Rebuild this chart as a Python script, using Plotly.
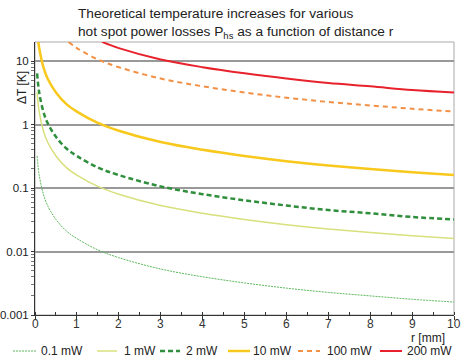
import plotly.graph_objects as go

# ---- data ----
r_small = [0.05, 0.1, 0.2, 0.3, 0.5, 0.75, 1, 1.5, 2, 3, 4, 5, 6, 7, 8, 9, 10]
dt_01mw = [0.32, 0.16, 0.08, 0.053, 0.032, 0.021, 0.016, 0.0106, 0.008, 0.0053, 0.004, 0.0032, 0.00265, 0.00227, 0.002, 0.00177, 0.0016]
dt_1mw = [3.2, 1.6, 0.8, 0.53, 0.32, 0.21, 0.16, 0.106, 0.08, 0.053, 0.04, 0.032, 0.0265, 0.0227, 0.02, 0.0177, 0.016]
dt_2mw = [6.4, 3.2, 1.6, 1.06, 0.64, 0.42, 0.32, 0.21, 0.16, 0.106, 0.08, 0.064, 0.053, 0.045, 0.04, 0.035, 0.032]

r_10mw = [0.08, 0.1, 0.2, 0.3, 0.5, 0.75, 1, 1.5, 2, 3, 4, 5, 6, 7, 8, 9, 10]
dt_10mw = [20, 16, 8, 5.3, 3.2, 2.1, 1.6, 1.06, 0.8, 0.53, 0.4, 0.32, 0.265, 0.227, 0.2, 0.177, 0.16]

r_100mw = [0.8, 1, 1.5, 2, 3, 4, 5, 6, 7, 8, 9, 10]
dt_100mw = [20, 16, 10.6, 8, 5.3, 4, 3.2, 2.65, 2.27, 2.0, 1.77, 1.6]

r_200mw = [1.6, 2, 3, 4, 5, 6, 7, 8, 9, 10]
dt_200mw = [20, 16, 10.6, 8, 6.4, 5.3, 4.5, 4.0, 3.5, 3.2]

series_names = ["0.1 mW", "1 mW", "2 mW", "10 mW", "100 mW", "200 mW"]
x_ticks = [0, 1, 2, 3, 4, 5, 6, 7, 8, 9, 10]
y_ticks = [0.001, 0.01, 0.1, 1, 10]
y_tick_text = ["0.001", "0.01", "0.1", "1", "10"]
y_minor = [m * d for d in [0.001, 0.01, 0.1, 1, 10] for m in range(2, 10)]

# ---- styles ----
styles = [
    dict(color="#5cb85c", width=1, dash="2px,1px"),
    dict(color="#d8e07c", width=1.5, dash="solid"),
    dict(color="#2f8f3c", width=2.5, dash="5px,3px"),
    dict(color="#f8c81c", width=2.5, dash="solid"),
    dict(color="#f29045", width=2, dash="5px,4px"),
    dict(color="#e8222c", width=2, dash="solid"),
]
xs = [r_small, r_small, r_small, r_10mw, r_100mw, r_200mw]
ys = [dt_01mw, dt_1mw, dt_2mw, dt_10mw, dt_100mw, dt_200mw]

W, H = 462, 360
L, R, T, B = 35, 8, 42, 45
pw, ph = W - L - R, H - T - B

def px(x):
    return (x - L) / pw

def py(y):
    return (H - B - y) / ph

fig = go.Figure()
for name, x, y, st in zip(series_names, xs, ys, styles):
    fig.add_trace(go.Scatter(x=x, y=y, mode="lines", name=name,
                             line=dict(shape="spline", smoothing=1.0, **st),
                             showlegend=False))

font = "Liberation Sans, Arial, sans-serif"

fig.update_layout(
    width=W, height=H,
    margin=dict(l=L, r=R, t=T, b=B, autoexpand=False),
    paper_bgcolor="white", plot_bgcolor="white",
    font=dict(family=font, size=12, color="#222"),
    xaxis=dict(range=[0, 10], tickvals=x_ticks, ticks="outside", ticklen=4,
               showticklabels=False,
               tickcolor="#333", showline=True, linecolor="#333", linewidth=1,
               showgrid=False, zeroline=False, automargin=False,
               minor=dict(dtick=0.5, ticks="inside", ticklen=3, tickcolor="#333")),
    yaxis=dict(type="log", range=[-3, 1.3], tickvals=y_ticks, ticktext=y_tick_text,
               ticks="outside", ticklen=3, tickcolor="#333", automargin=False,
               showline=True, linecolor="#333", linewidth=1,
               showgrid=True, gridcolor="#999", gridwidth=1.5, zeroline=False,
               tickfont=dict(size=11.5, color="#222"),
               minor=dict(tickvals=y_minor, ticks="outside", ticklen=3,
                          tickcolor="#777", showgrid=False)),
)

# x tick labels placed via the x axis scale
for t in x_ticks:
    fig.add_annotation(xref="x", yref="paper", x=t, y=py(324), xanchor="center", yanchor="middle",
                       showarrow=False, text=str(t), font=dict(size=12, color="#333"))

# plot frame (top/right light grey)
fig.add_shape(type="rect", xref="paper", yref="paper", x0=0, x1=1, y0=0, y1=1,
              line=dict(color="#aaa", width=1), layer="below")

# title
fig.add_annotation(xref="paper", yref="paper", x=px(76), y=py(4), xanchor="left", yanchor="top",
                   align="left", showarrow=False,
                   text="Theoretical temperature increases for various<br>hot spot power losses P<sub>hs</sub> as a function of distance r",
                   font=dict(size=13.7, color="#222"))
# axis titles
fig.add_annotation(xref="paper", yref="paper", x=px(22), y=py(88), xanchor="center",
                   yanchor="middle", showarrow=False,
                   text="ΔT [K]", textangle=-90, font=dict(size=12, color="#222"))
fig.add_annotation(xref="paper", yref="paper", x=px(447), y=py(338), xanchor="right",
                   yanchor="middle", showarrow=False, text="r [mm]", font=dict(size=12, color="#222"))

# manual legend
leg_lines = [(13, 36), (97, 117), (160, 180), (228, 250), (298, 320), (380, 402)]
leg_text_x = [39, 122, 184, 251, 325, 405]
ly = 351
for name, st, (a, b), tx in zip(series_names, styles, leg_lines, leg_text_x):
    fig.add_shape(type="line", xref="paper", yref="paper", x0=px(a), x1=px(b), y0=py(ly), y1=py(ly),
                  line=dict(color=st["color"], width=st["width"], dash=st["dash"]))
    fig.add_annotation(xref="paper", yref="paper", x=px(tx), y=py(ly), xanchor="left", yanchor="middle",
                       showarrow=False, text=name, font=dict(size=12, color="#222"))

fig.write_html("out.html")
